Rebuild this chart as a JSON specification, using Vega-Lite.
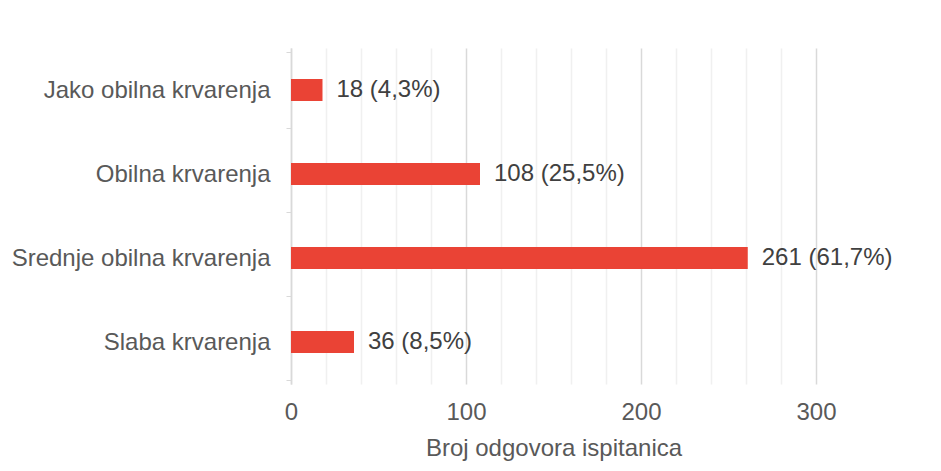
{
  "$schema": "https://vega.github.io/schema/vega-lite/v6.json",
  "width": 525,
  "height": 336,
  "autosize": {"type": "none"},
  "padding": {"left": 291, "top": 48, "right": 125, "bottom": 87},
  "background": "white",
  "config": {
    "view": {"stroke": null},
    "font": "Liberation Sans",
    "axis": {"labelFont": "Liberation Sans", "titleFont": "Liberation Sans", "labelColor": "#595959", "titleColor": "#595959", "labelFontSize": 24, "titleFontSize": 24, "titleFontWeight": "normal"}
  },
  "data": {
    "values": [
      {"kategorija": "Jako obilna krvarenja", "broj": 18, "oznaka": "18 (4,3%)"},
      {"kategorija": "Obilna krvarenja", "broj": 108, "oznaka": "108 (25,5%)"},
      {"kategorija": "Srednje obilna krvarenja", "broj": 261, "oznaka": "261 (61,7%)"},
      {"kategorija": "Slaba krvarenja", "broj": 36, "oznaka": "36 (8,5%)"}
    ]
  },
  "encoding": {
    "y": {
      "field": "kategorija", "type": "nominal", "sort": null, "title": null,
      "axis": {"domainColor": "#d9d9d9", "tickColor": "#d9d9d9", "tickSize": 5, "tickBand": "extent", "labelPadding": 16, "labelLimit": 400, "grid": false, "domainWidth": 1.5}
    },
    "x": {
      "field": "broj", "type": "quantitative",
      "scale": {"domain": [0, 300], "nice": false},
      "title": "Broj odgovora ispitanica",
      "axis": {
        "values": [0, 20, 40, 60, 80, 100, 120, 140, 160, 180, 200, 220, 240, 260, 280, 300],
        "labelExpr": "datum.value % 100 === 0 ? datum.label : ''",
        "domain": false, "ticks": false, "labelPadding": 16, "titlePadding": 12,
        "grid": true,
        "gridColor": {"condition": {"test": "datum.value % 100 === 0", "value": "#d9d9d9"}, "value": "#f0f0f0"},
        "gridWidth": 1.5,
        "labelFlush": false, "labelOverlap": false
      }
    }
  },
  "layer": [
    {"mark": {"type": "bar", "color": "#EA4335", "size": 22}},
    {"mark": {"type": "text", "align": "left", "dx": 14, "fontSize": 24, "color": "#404040", "font": "Liberation Sans", "clip": false}, "encoding": {"text": {"field": "oznaka"}}}
  ]
}
